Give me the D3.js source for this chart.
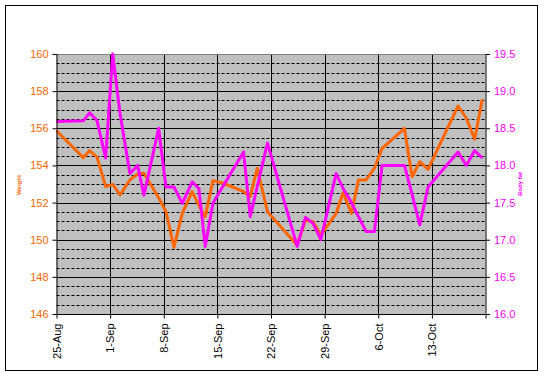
<!DOCTYPE html>
<html>
<head>
<meta charset="utf-8">
<script src="https://cdn.jsdelivr.net/npm/d3@7"></script>
<style>
  body { margin: 0; background: #fff; }
  svg { display: block; font-family: "Liberation Sans", Arial, sans-serif; }
</style>
</head>
<body>
<div class="vis-chart"></div>
<script>
// readings, times in the year 1900 (only day/month matter)
const dates = [
  'Aug 25 00:00', 'Aug 28 12:00', 'Aug 29 08:00', 'Aug 30 07:00', 'Aug 31 10:00',
  'Sep 01 08:00', 'Sep 02 07:00', 'Sep 03 14:00', 'Sep 04 14:00', 'Sep 05 10:00',
  'Sep 07 08:00', 'Sep 08 07:00', 'Sep 09 08:00', 'Sep 10 10:00', 'Sep 11 17:00',
  'Sep 12 14:00', 'Sep 13 10:00', 'Sep 14 10:00', 'Sep 15 19:00', 'Sep 18 10:00',
  'Sep 19 07:00', 'Sep 20 05:00', 'Sep 21 13:00', 'Sep 25 10:00', 'Sep 26 12:00',
  'Sep 27 12:00', 'Sep 28 12:00', 'Sep 30 12:00', 'Oct 01 10:00', 'Oct 02 12:00',
  'Oct 03 10:00', 'Oct 04 10:00', 'Oct 05 12:00', 'Oct 06 12:00', 'Oct 07 12:00',
  'Oct 09 10:00', 'Oct 10 10:00', 'Oct 11 10:00', 'Oct 12 12:00', 'Oct 16 10:00',
  'Oct 17 12:00', 'Oct 18 14:00', 'Oct 19 14:00',
];

const weight = [
  155.87, 154.42, 154.8, 154.44, 152.86,
  152.98, 152.41, 153.22, 153.54, 153.58,
  152.26, 151.51, 149.59, 151.42, 152.59,
  151.85, 151.24, 153.18, 153.04, 152.59,
  152.32, 153.85, 151.5, 149.7, 151.06,
  150.97, 150.25, 151.42, 152.53, 151.42,
  153.22, 153.22, 153.85, 154.92, 155.28,
  156.0, 153.39, 154.2, 153.79, 157.2,
  156.54, 155.41, 157.56,
];

const bodyFat = [
  18.59, 18.6, 18.71, 18.6, 18.1,
  19.5, 18.7, 17.89, 18.0, 17.6,
  18.5, 17.71, 17.71, 17.49, 17.78,
  17.69, 16.91, 17.49, 17.73, 18.18,
  17.31, 17.72, 18.3, 16.91, 17.3,
  17.22, 17.0, 17.89, 17.69, 17.5,
  17.31, 17.11, 17.11, 18.0, 18.0,
  18.0, 17.61, 17.2, 17.71, 18.18,
  18.0, 18.2, 18.1,
];

const xTickLabels = ['25-Aug', '1-Sep', '8-Sep', '15-Sep', '22-Sep', '29-Sep', '6-Oct', '13-Oct'];

const parse = d3.timeParse('%b %d %H:%M');
const rows = dates.map((d, i) => ({ date: parse(d), w: weight[i], f: bodyFat[i] }));

const width = 544;
const height = 376;
const plot = { left: 56.5, right: 485.5, top: 54, bottom: 314 };

const svg = d3.select('.vis-chart')
  .append('svg')
  .attr('width', width)
  .attr('height', height);

// outer chart border
svg.append('rect')
  .attr('x', 5.5).attr('y', 5.5)
  .attr('width', 532).attr('height', 365)
  .attr('fill', '#fff')
  .attr('stroke', '#000');

const x = d3.scaleTime()
  .domain([parse('Aug 25 00:00'), parse('Oct 20 00:00')])
  .range([plot.left, plot.right]);

const yL = d3.scaleLinear().domain([146, 160]).range([plot.bottom, plot.top]);
const yR = d3.scaleLinear().domain([16, 19.5]).range([plot.bottom, plot.top]);

// plot area
svg.append('rect')
  .attr('x', plot.left).attr('y', plot.top)
  .attr('width', plot.right - plot.left).attr('height', plot.bottom - plot.top)
  .attr('fill', '#c0c0c0');

const weekTicks = d3.timeDay.range(parse('Aug 25 00:00'), parse('Oct 21 00:00'), 7);

// minor horizontal gridlines
const minor = d3.range(146, 160.01, 0.5).filter((v) => v % 2 !== 0);
svg.append('g')
  .selectAll('line')
  .data(minor)
  .enter()
  .append('line')
  .attr('x1', plot.left).attr('x2', plot.right)
  .attr('y1', (d) => Math.round(yL(d)) + 0.5)
  .attr('y2', (d) => Math.round(yL(d)) + 0.5)
  .attr('stroke', '#000')
  .attr('stroke-dasharray', '3,2');

// major horizontal gridlines
svg.append('g')
  .selectAll('line')
  .data(d3.range(148, 159, 2))
  .enter()
  .append('line')
  .attr('x1', plot.left).attr('x2', plot.right)
  .attr('y1', (d) => Math.round(yL(d)) + 0.5)
  .attr('y2', (d) => Math.round(yL(d)) + 0.5)
  .attr('stroke', '#000');

// vertical gridlines
svg.append('g')
  .selectAll('line')
  .data(weekTicks.slice(1, -1))
  .enter()
  .append('line')
  .attr('x1', (d) => Math.round(x(d)) + 0.5)
  .attr('x2', (d) => Math.round(x(d)) + 0.5)
  .attr('y1', plot.top).attr('y2', plot.bottom)
  .attr('stroke', '#000');

// top border of plot area
svg.append('line')
  .attr('x1', plot.left).attr('x2', plot.right)
  .attr('y1', plot.top + 0.5).attr('y2', plot.top + 0.5)
  .attr('stroke', '#808080');

// series
const lineW = d3.line().x((d) => x(d.date)).y((d) => yL(d.w));
const lineF = d3.line().x((d) => x(d.date)).y((d) => yR(d.f));

svg.append('path')
  .datum(rows)
  .attr('d', lineW)
  .attr('fill', 'none')
  .attr('stroke', '#ff6600')
  .attr('stroke-width', 3)
  .attr('stroke-linejoin', 'round');

svg.append('path')
  .datum(rows)
  .attr('d', lineF)
  .attr('fill', 'none')
  .attr('stroke', '#ff00ff')
  .attr('stroke-width', 3)
  .attr('stroke-linejoin', 'round');

// axes
const leftAxis = svg.append('g')
  .attr('transform', `translate(${plot.left},0)`)
  .call(d3.axisLeft(yL).tickValues(d3.range(146, 161, 2)).tickSize(4).tickPadding(4));

const rightAxis = svg.append('g')
  .attr('transform', `translate(${plot.right + 0.5},0)`)
  .call(d3.axisRight(yR).tickValues(d3.range(16, 19.6, 0.5)).tickFormat(d3.format('.1f'))
    .tickSize(4).tickPadding(4));

const xAxis = svg.append('g')
  .attr('transform', `translate(0,${plot.bottom + 0.5})`)
  .call(d3.axisBottom(x).tickValues(weekTicks)
    .tickFormat((d, i) => xTickLabels[i] || '').tickSize(4).tickPadding(6));

[leftAxis, rightAxis, xAxis].forEach((g) => {
  g.selectAll('.domain').attr('stroke', '#000');
  g.selectAll('.tick line').attr('stroke', '#000');
  g.selectAll('text').attr('font-size', 11).attr('font-family', '"Liberation Sans", Arial, sans-serif');
});

leftAxis.select('.domain').attr('d', `M0.5,${plot.top}V${plot.bottom}`);
leftAxis.selectAll('text').attr('fill', '#ff6600');
rightAxis.select('.domain').attr('d', `M0,${plot.top}V${plot.bottom}`);
rightAxis.selectAll('text').attr('fill', '#ff00ff');
xAxis.select('.domain').attr('d', `M${plot.left},0H${plot.right}`);

xAxis.selectAll('text')
  .attr('fill', '#000')
  .attr('transform', 'rotate(-90)')
  .attr('text-anchor', 'end')
  .attr('x', -9)
  .attr('y', 0)
  .attr('dy', '0.35em');

// axis titles
svg.append('text')
  .attr('transform', 'translate(21,185) rotate(-90)')
  .attr('text-anchor', 'middle')
  .attr('font-size', 6)
  .attr('font-weight', 'bold')
  .attr('fill', '#ff6600')
  .text('Weight');

svg.append('text')
  .attr('transform', 'translate(522,184) rotate(-90)')
  .attr('text-anchor', 'middle')
  .attr('font-size', 6)
  .attr('font-weight', 'bold')
  .attr('fill', '#ff00ff')
  .text('Body fat');
</script>
</body>
</html>
